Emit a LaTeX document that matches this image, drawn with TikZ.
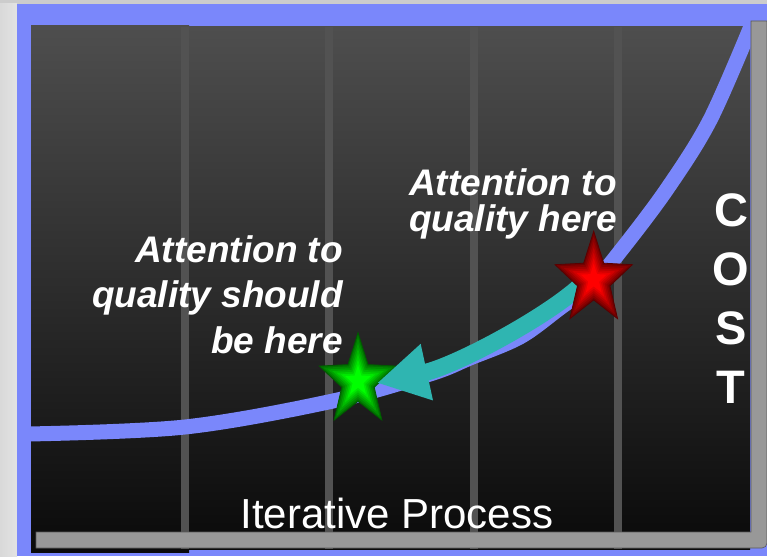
\documentclass[tikz,border=0pt]{standalone}
\usepackage{fontspec}
\setmainfont{Liberation Sans}
\usetikzlibrary{arrows.meta, calc}

\definecolor{slideblue}{RGB}{122,135,251}
\definecolor{arrowteal}{RGB}{47,181,177}
\definecolor{framegrey}{RGB}{152,152,152}
\definecolor{panetop}{RGB}{78,78,78}
\definecolor{panebottom}{RGB}{10,10,10}
\definecolor{divider}{RGB}{82,82,82}

\tikzset{
  note/.style={text=white, inner sep=0pt, font=\bfseries\itshape\fontsize{37}{45.5}\selectfont},
  divline/.style={divider, line width=8pt},
}

% star with a glow from the rim to the centre
\newcommand{\qualitystar}[3]{%
  \coordinate (#1) at #2;
  \foreach \k in {0,...,6}{
    \pgfmathsetmacro\s{1-\k/9}
    \pgfmathsetmacro\m{45+\k*55/6}
    \fill[#3!\m!black, shift={(#1)}, scale=\s]
      (90:40.6pt and 48.3pt) \foreach \i in {1,...,9}{
        -- ({90+36*\i}:{(1-0.58*mod(\i,2))*40.6pt} and {(1-0.58*mod(\i,2))*48.3pt})} -- cycle;
  }
  \draw[#3!35!black, line width=0.8pt, shift={(#1)}]
    (90:40.6pt and 48.3pt) \foreach \i in {1,...,9}{
      -- ({90+36*\i}:{(1-0.58*mod(\i,2))*40.6pt} and {(1-0.58*mod(\i,2))*48.3pt})} -- cycle;
}

\begin{document}
\begin{tikzpicture}[x=1pt, y=-1pt]
  \useasboundingbox (0,0) rectangle (767,556);

  % Draw the slide background and the blue frame
  \fill[gray!40] (0,0) rectangle (767,556);
  \shade[left color=gray!30, right color=gray!22] (0,4) rectangle (17,556);
  \fill[slideblue] (17,4) rectangle (767,556);

  % Draw the dark panels
  \shade[top color=panetop, bottom color=panebottom] (31,27) rectangle (750,549);
  \shade[top color=panetop, bottom color=panebottom] (31,26) rectangle (189,552);
  \foreach \x in {185,329,474,618}
    \draw[divline] (\x,27) -- (\x,549);

  % Draw the cost curve
  \draw[slideblue, line width=15pt] plot[smooth, tension=0.55] coordinates {(28,434) (185,427) (333,401) (430,374) (470,358) (520,337) (560,308) (593,283) (622,249) (667,189) (710,120) (752,24)};

  % Draw the axes frame
  \filldraw[fill=framegrey, draw=gray!70!black, line width=0.6pt]
    (36,532) -- (751,532) -- (751,21) -- (767,21) [rounded corners=5pt] -- (767,548) [sharp corners] -- (36,548) -- cycle;

  % Draw the labels (base is the last line)
  \node[note, align=right, anchor=base east] (shouldnote) at (343,353) {Attention to\\quality should\\be here};
  \node[note, align=left, anchor=base west, font=\bfseries\itshape\fontsize{37}{36}\selectfont] (herenote) at (409,231) {Attention to\\quality here};
  \node[text=white, inner sep=0pt, align=center, anchor=base, font=\bfseries\fontsize{47}{59}\selectfont] (costlabel) at (731,403) {C\\O\\S\\T};
  \node[text=white, inner sep=0pt, anchor=base, font=\fontsize{42}{50}\selectfont] (processlabel) at (397,528) {Iterative Process};

  % Draw the stars and the arrow between them
  \qualitystar{greenstar}{(358,381)}{green}
  \coordinate (arrowstart) at (580,286);
  \coordinate (arrowtip) at (377,383);
  \draw[arrowteal, line width=17pt, -{Triangle[length=51pt, width=54pt]}]
    (arrowstart) .. controls (545,318) and (455,366) .. (arrowtip);
  \qualitystar{redstar}{(593.7,279.6)}{red}
\end{tikzpicture}
\end{document}
